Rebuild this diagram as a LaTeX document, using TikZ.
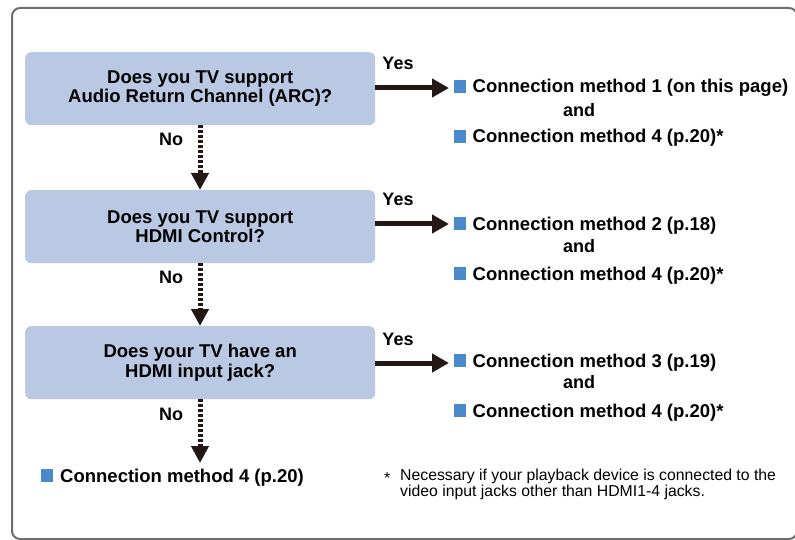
\documentclass[tikz,border=0pt]{standalone}
\usepackage{fontspec}
\setmainfont{Liberation Sans}
\usetikzlibrary{arrows.meta}
\definecolor{boxfill}{HTML}{B9C9E3}
\definecolor{sq}{HTML}{4A8ACB}
\definecolor{ink}{HTML}{231815}
\definecolor{framec}{HTML}{6E6E6E}
\tikzset{
  qbox/.style={fill=boxfill, rounded corners=6pt, minimum width=350pt, minimum height=73pt, inner sep=0pt, align=center, font=\fontsize{18.5}{19.5}\selectfont\bfseries, anchor=north west},
  lbl/.style={font=\fontsize{18}{20}\selectfont\bfseries, inner sep=0pt, anchor=base},
  yesarrow/.style={draw=ink, line width=5pt, -{Triangle[length=17pt,width=18pt]}},
  noarrow/.style={draw=ink, line width=5pt, dash pattern=on 3pt off 2pt, -{Triangle[length=17pt,width=17pt]}},
  bullet/.style={fill=sq, minimum size=12.5pt, inner sep=0pt, anchor=south west},
  mtext/.style={font=\fontsize{18.5}{20}\selectfont\bfseries, inner sep=0pt, anchor=base west},
  note/.style={font=\fontsize{15.8}{13.5}\selectfont, inner sep=0pt, anchor=base west}
}
\begin{document}
\begin{tikzpicture}[x=1pt,y=-1pt]
\useasboundingbox (0,0) rectangle (795,540);
\draw[framec, line width=2pt, rounded corners=8pt] (12,8) -- (797,8) -- (797,539) -- (12,539) -- cycle;

% question boxes
\node[qbox] (q1) at (25,52) {Does you TV support\\Audio Return Channel (ARC)?};
\node[qbox] (q2) at (25,190) {Does you TV support\\HDMI Control?};
\node[qbox] (q3) at (25,326) {Does your TV have an\\HDMI input jack?};

% yes branches
\foreach \i/\ay/\yy/\la/\lb/\lc/\m in {
   1/88/70/93/117/143/{Connection method 1 (on this page)},
   2/224/206/230/252/280/{Connection method 2 (p.18)},
   3/363/345/367/388/417/{Connection method 3 (p.19)}} {
  \coordinate (a\i) at (375,\ay);
  \coordinate (b\i) at (449,\ay);
  \node[lbl] (yes\i) at (398,\yy) {Yes};
  \node[bullet] (s\i a) at (453.5,\la) {};
  \node[mtext] (m\i a) at (472.5,\la) {\m};
  \node[lbl] (and\i) at (579,\lb) {and};
  \node[bullet] (s\i b) at (453.5,\lc) {};
  \node[mtext] (m\i b) at (472.5,\lc) {Connection method 4 (p.20)*};
}
\draw[yesarrow] (a1) -- (b1);
\draw[yesarrow] (a2) -- (b2);
\draw[yesarrow] (a3) -- (b3);

% no branches
\coordinate (n3) at (200,463);
\draw[noarrow] (q1.south -| 200,0) -- (q2.north -| 200,0);
\draw[noarrow] (q2.south -| 200,0) -- (q3.north -| 200,0);
\draw[noarrow] (q3.south -| 200,0) -- (n3);
\node[lbl] (no1) at (171,146) {No};
\node[lbl] (no2) at (171,283) {No};
\node[lbl] (no3) at (171,420) {No};

% bottom result
\node[bullet] (s4) at (40.7,482) {};
\node[mtext] (m4) at (60,482) {Connection method 4 (p.20)};

% footnote
\node[note] (star) at (384,483) {*};
\node[note, align=left] (fn) at (400,496.5) {Necessary if your playback device is connected to the\\video input jacks other than HDMI1-4 jacks.};
\end{tikzpicture}
\end{document}
